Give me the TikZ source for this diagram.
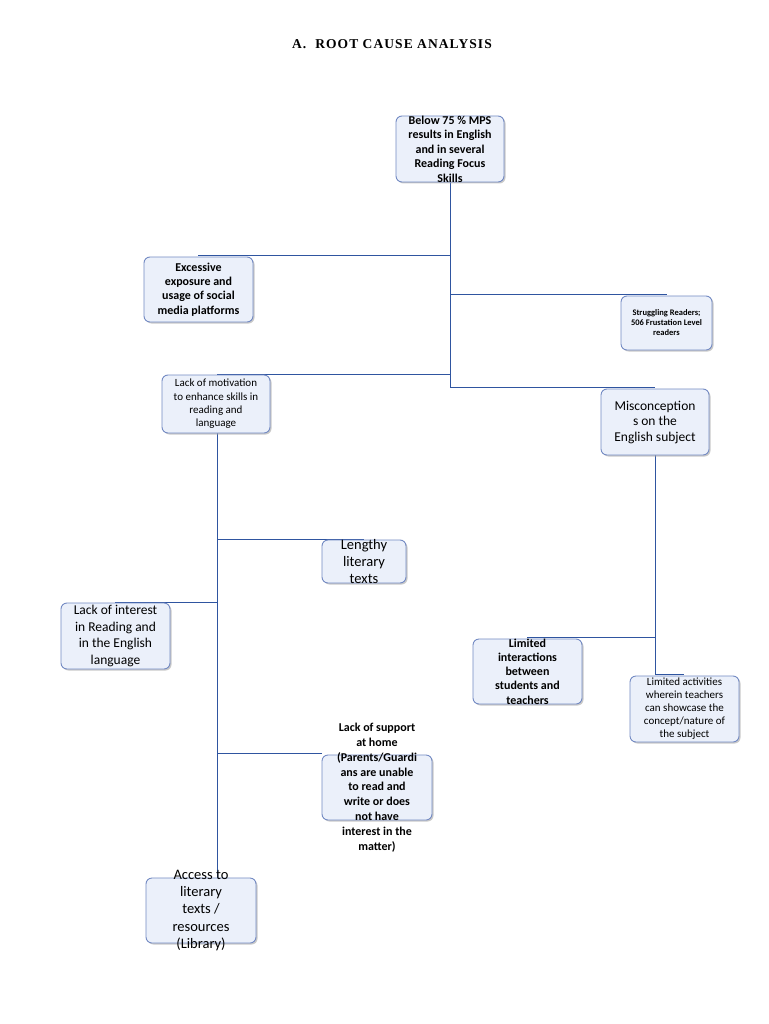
\documentclass[tikz,border=0pt]{standalone}
\usepackage{fontspec}
\setmainfont{Carlito}
\newfontfamily\titlefont[LetterSpace=8]{Liberation Serif}
\usetikzlibrary{shadows}
\definecolor{linecol}{RGB}{47,85,160}
\definecolor{boxborder}{RGB}{115,138,195}
\definecolor{boxfill}{RGB}{235,240,250}
\tikzset{
  box/.style={draw=boxborder, line width=0.9pt, fill=boxfill, rounded corners=6pt,
    drop shadow={shadow xshift=1.5pt, shadow yshift=-1.5pt, fill=black!35, opacity=0.6},
    inner sep=0pt},
  txt/.style={align=center, inner sep=0pt, text=black},
  conn/.style={draw=linecol, line width=0.9pt},
}
\begin{document}
\begin{tikzpicture}[x=1pt,y=-1pt]
\useasboundingbox (0,0) rectangle (768,1024);
\fill[white] (0,0) rectangle (768,1024);

\node[txt, font=\titlefont\bfseries\fontsize{13.5}{16}\selectfont] (title) at (392,44) {A.\ \ ROOT CAUSE ANALYSIS};

% junction coordinates
\coordinate (j1) at (450,255);
\coordinate (e1) at (198,255);
\coordinate (j2) at (450,294);
\coordinate (e2) at (667,294);
\coordinate (j3) at (450,374);
\coordinate (e3) at (217,374);
\coordinate (j4) at (450,387);
\coordinate (e4) at (655,387);
\coordinate (k1) at (217,539);
\coordinate (f1) at (364,539);
\coordinate (k2) at (217,602);
\coordinate (f2) at (115,602);
\coordinate (k3) at (217,753);
\coordinate (f3) at (322,753);
\coordinate (m1) at (655,637);
\coordinate (g1) at (527,637);
\coordinate (m2) at (655,674);
\coordinate (g2) at (684,674);

% connectors
\draw[conn] (450,182) -- (j4);
\draw[conn] (j1) -- (e1);
\draw[conn] (j2) -- (e2);
\draw[conn] (j3) -- (e3);
\draw[conn] (j4) -- (e4);
\draw[conn] (217,433) -- (217,878);
\draw[conn] (k1) -- (f1);
\draw[conn] (k2) -- (f2);
\draw[conn] (k3) -- (f3);
\draw[conn] (655,455) -- (m2);
\draw[conn] (m1) -- (g1);
\draw[conn] (m2) -- (g2);

% boxes
\node[box, minimum width=108pt, minimum height=66pt] (b1) at (450,149) {};
\node[txt, font=\bfseries\fontsize{12}{14.5}\selectfont] at (b1) {Below 75 \% MPS\\results in English\\and in several\\Reading Focus\\Skills};

\node[box, minimum width=109pt, minimum height=65pt] (b2) at (198.5,289.5) {};
\node[txt, font=\bfseries\fontsize{12}{14.3}\selectfont] at (b2) {Excessive\\exposure and\\usage of social\\media platforms};

\node[box, minimum width=91pt, minimum height=54pt] (b3) at (666.5,323) {};
\node[txt, font=\bfseries\fontsize{8.5}{10}\selectfont] at (b3) {Struggling Readers;\\506 Frustation Level\\readers};

\node[box, minimum width=108pt, minimum height=58pt] (b4) at (216,404) {};
\node[txt, font=\fontsize{11}{13.3}\selectfont] at (b4) {Lack of motivation\\to enhance skills in\\reading and\\language};

\node[box, minimum width=108pt, minimum height=66pt] (b5) at (655,422) {};
\node[txt, font=\fontsize{13.5}{15.5}\selectfont] at (b5) {Misconception\\s on the\\English subject};

\node[box, minimum width=84pt, minimum height=43pt] (b6) at (364,561.5) {};
\node[txt, font=\fontsize{14.5}{17}\selectfont] at (b6) {Lengthy\\literary\\texts};

\node[box, minimum width=109pt, minimum height=66pt] (b7) at (115.5,636) {};
\node[txt, font=\fontsize{13.5}{16.5}\selectfont] at (b7) {Lack of interest\\in Reading and\\in the English\\language};

\node[box, minimum width=109pt, minimum height=65pt] (b8) at (527.5,671.5) {};
\node[txt, font=\bfseries\fontsize{12}{14.3}\selectfont] at (b8) {Limited\\interactions\\between\\students and\\teachers};

\node[box, minimum width=109pt, minimum height=66pt] (b9) at (684.5,709) {};
\node[txt, font=\fontsize{11}{13}\selectfont] at (b9) {Limited activities\\wherein teachers\\can showcase the\\concept/nature of\\the subject};

\node[box, minimum width=110pt, minimum height=65pt] (b10) at (377,787.5) {};
\node[txt, font=\bfseries\fontsize{12}{14.8}\selectfont] at (b10) {Lack of support\\at home\\(Parents/Guardi\\ans are unable\\to read and\\write or does\\not have\\interest in the\\matter)};

\node[box, minimum width=110pt, minimum height=65pt] (b11) at (201,910.5) {};
\node[txt, font=\fontsize{14.5}{17.3}\selectfont] at (b11) {Access to\\literary\\texts /\\resources\\(Library)};

\end{tikzpicture}
\end{document}
